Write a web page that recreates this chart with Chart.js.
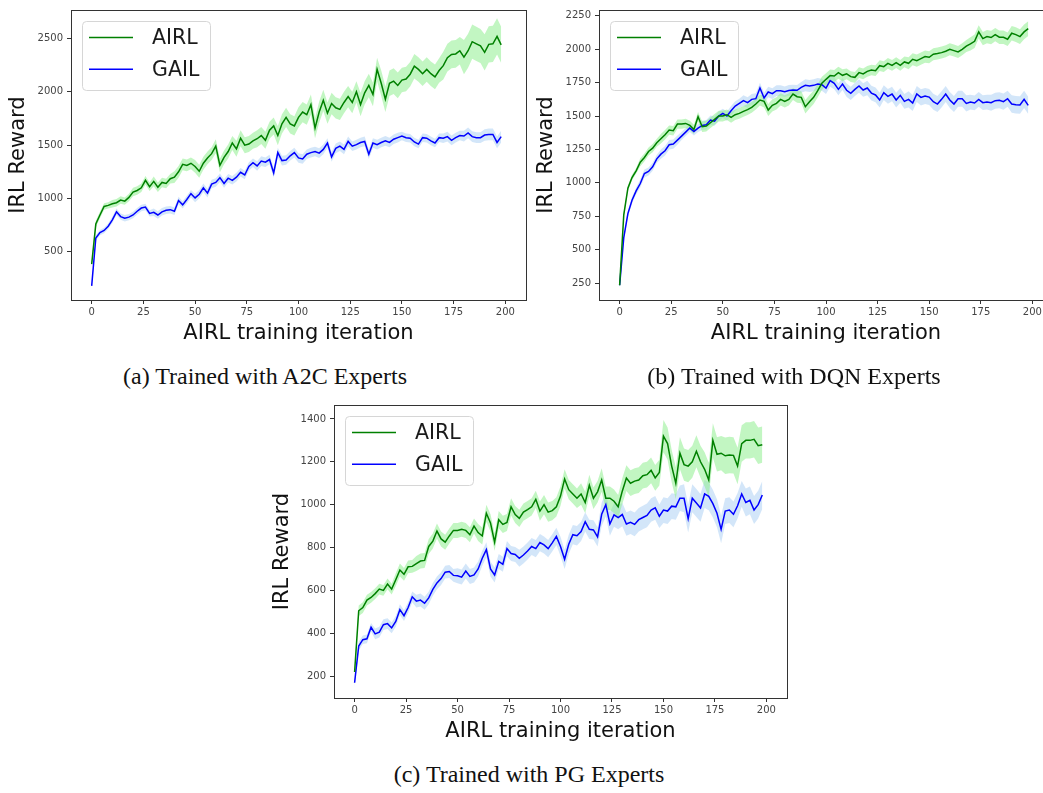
<!DOCTYPE html>
<html>
<head>
<meta charset="utf-8">
<script src="https://cdn.jsdelivr.net/npm/chart.js@4.4.0/dist/chart.umd.min.js"></script>
<style>
  html, body { margin: 0; padding: 0; background: #fff; overflow: hidden; }
  body { width: 1043px; height: 793px; position: relative; }
  canvas { position: absolute; }
  .caption {
    position: absolute; width: 400px; text-align: center; white-space: nowrap;
    font-family: 'Liberation Serif', 'Times New Roman', serif;
    font-size: 24px; line-height: 26px; color: #111;
  }
</style>
</head>
<body>
<canvas id="chartA" width="540" height="350" style="left:0;top:0"></canvas>
<canvas id="chartB" width="540" height="350" style="left:520px;top:0"></canvas>
<canvas id="chartC" width="540" height="350" style="left:260px;top:395px"></canvas>
<div class="caption" style="left:65px;top:363px">(a) Trained with A2C Experts</div>
<div class="caption" style="left:594px;top:363px">(b) Trained with DQN Experts</div>
<div class="caption" style="left:329px;top:761px">(c) Trained with PG Experts</div>
<script>
// iterations sampled every 2 steps (0..198)
const iterations = Array.from({ length: 100 }, (_, k) => 2 * k);
const seriesNames = ['AIRL', 'GAIL'];
const xTicks = [0, 25, 50, 75, 100, 125, 150, 175, 200];

// (a) A2C experts
const airlA2C = [
  385, 760, 845, 925, 935, 950, 960, 985, 975, 1010,
  1060, 1075, 1100, 1170, 1110, 1160, 1105, 1150, 1140, 1185,
  1200, 1250, 1320, 1310, 1330, 1300, 1255, 1330, 1380, 1420,
  1490, 1310, 1385, 1440, 1520, 1465, 1565, 1500, 1510, 1540,
  1560, 1590, 1545, 1640, 1680, 1590, 1700, 1760, 1700, 1680,
  1760, 1810, 1785, 1880, 1660, 1810, 1920, 1800, 1890, 1850,
  1835, 1900, 1955, 1900, 2000, 1880, 1990, 2060, 1975, 2210,
  2080, 1930, 2080, 2100, 2060, 2110, 2120, 2165, 2240, 2210,
  2170, 2210, 2170, 2140, 2200, 2245, 2320, 2350, 2355, 2385,
  2325, 2385, 2470, 2450, 2430, 2370, 2445, 2450, 2520, 2440
];
const gailA2C = [
  180, 630, 680, 700, 740, 800, 875, 830, 815, 825,
  845, 880, 910, 920, 860, 870, 845, 875, 890, 895,
  880, 980, 940, 990, 1045, 1005, 1040, 1100, 1050, 1135,
  1150, 1195, 1140, 1190, 1170, 1200, 1245, 1220, 1300, 1335,
  1305, 1350, 1340, 1365, 1240, 1430, 1355, 1360, 1400, 1430,
  1380, 1370, 1415, 1430, 1440, 1425, 1460, 1520, 1390, 1470,
  1490, 1460, 1535, 1490, 1505, 1525, 1535, 1415, 1520, 1505,
  1525, 1540, 1525, 1555, 1570, 1585, 1570, 1565, 1530, 1510,
  1570, 1565, 1540, 1520, 1570, 1565, 1580, 1545, 1570, 1590,
  1585, 1615, 1580, 1570, 1570, 1595, 1600, 1600, 1525, 1580
];
// band half widths, one per 10 iterations
const airlA2CSpread = [30, 35, 40, 45, 55, 60, 65, 75, 80, 90, 95, 100, 100, 110, 120, 115, 115, 130, 160, 170];
const gailA2CSpread = [25, 30, 30, 35, 35, 40, 40, 40, 45, 45, 45, 45, 45, 45, 45, 40, 40, 45, 50, 55];
const yTicksA2C = [500, 1000, 1500, 2000, 2500];

// (b) DQN experts
const airlDQN = [
  233, 760, 960, 1040, 1090, 1155, 1190, 1235, 1260, 1300,
  1330, 1360, 1395, 1390, 1440, 1440, 1445, 1430, 1400, 1495,
  1420, 1425, 1450, 1475, 1500, 1500, 1510, 1490, 1510, 1520,
  1535, 1548, 1565, 1590, 1620, 1610, 1545, 1580, 1595, 1625,
  1610, 1625, 1665, 1645, 1640, 1570, 1607, 1640, 1690, 1745,
  1775, 1803, 1800, 1825, 1805, 1816, 1795, 1790, 1825, 1816,
  1835, 1845, 1840, 1877, 1870, 1895, 1880, 1900, 1880, 1905,
  1895, 1925, 1915, 1930, 1945, 1940, 1963, 1968, 1975, 1985,
  2000, 1990, 1980, 2000, 2024, 2040, 2060, 2130, 2080, 2095,
  2088, 2110, 2090, 2090, 2075, 2120, 2110, 2095, 2130, 2155
];
const gailDQN = [
  233, 590, 770, 870, 940, 995, 1070, 1085, 1120, 1180,
  1215, 1240, 1285, 1290, 1320, 1350, 1380, 1410, 1385, 1410,
  1430, 1435, 1470, 1462, 1500, 1520, 1500, 1540, 1575, 1595,
  1615, 1600, 1625, 1630, 1710, 1635, 1680, 1668, 1690, 1690,
  1682, 1692, 1695, 1693, 1715, 1730, 1725, 1730, 1740, 1735,
  1710, 1765, 1745, 1700, 1740, 1693, 1670, 1700, 1725, 1695,
  1710, 1672, 1658, 1620, 1675, 1648, 1665, 1620, 1655, 1610,
  1625, 1598, 1665, 1640, 1650, 1642, 1607, 1590, 1625, 1665,
  1620, 1590, 1630, 1630, 1595, 1605, 1598, 1625, 1600, 1605,
  1600, 1615, 1618, 1608, 1630, 1590, 1585, 1583, 1625, 1580
];
const airlDQNSpread = [20, 30, 35, 35, 40, 40, 40, 45, 45, 50, 45, 40, 40, 40, 45, 45, 45, 50, 50, 55];
const gailDQNSpread = [25, 30, 35, 30, 35, 35, 40, 40, 40, 45, 45, 50, 55, 55, 60, 60, 60, 55, 60, 65];
const yTicksDQN = [250, 500, 750, 1000, 1250, 1500, 1750, 2000, 2250];

// (c) PG experts
const airlPG = [
  219, 505, 520, 555, 567, 585, 606, 600, 630, 606,
  650, 695, 675, 710, 712, 725, 737, 740, 805, 830,
  877, 840, 825, 854, 880, 880, 885, 880, 860, 900,
  870, 854, 960, 915, 825, 930, 908, 917, 990, 954,
  936, 965, 977, 990, 1025, 970, 1000, 965, 972, 990,
  1040, 1120, 1070, 1050, 1030, 1050, 1010, 1090, 1030, 1060,
  1115, 1030, 1030, 1016, 990, 1063, 1124, 1100, 1110, 1115,
  1135, 1140, 1160, 1125, 1150, 1320, 1285, 1180, 1100, 1240,
  1187, 1180, 1200, 1249, 1200, 1165, 1115, 1300, 1235, 1240,
  1228, 1232, 1230, 1180, 1285, 1300, 1300, 1305, 1275, 1280
];
const gailPG = [
  169, 340, 370, 374, 428, 397, 405, 440, 445, 425,
  455, 510, 482, 520, 570, 550, 555, 540, 565, 605,
  635, 655, 685, 688, 670, 668, 662, 690, 665, 672,
  700, 750, 790, 700, 672, 735, 722, 795, 772, 768,
  750, 765, 784, 805, 795, 823, 812, 795, 822, 852,
  805, 745, 815, 860, 855, 875, 920, 885, 882, 850,
  955, 1000, 910, 952, 940, 954, 910, 918, 908, 930,
  940, 950, 975, 985, 946, 975, 970, 993, 990, 1030,
  1030, 935, 1030, 1008, 985, 1050, 1039, 1005, 960, 885,
  970, 975, 955, 995, 1050, 1010, 1020, 975, 1000, 1045
];
const airlPGSpread = [25, 25, 30, 35, 35, 35, 40, 40, 40, 45, 45, 50, 55, 60, 60, 75, 75, 80, 85, 85];
const gailPGSpread = [20, 25, 25, 30, 30, 35, 35, 35, 40, 40, 45, 45, 55, 55, 55, 60, 65, 65, 60, 65];
const yTicksPG = [200, 400, 600, 800, 1000, 1200, 1400];

const FONT = "'DejaVu Sans', sans-serif";
const lineColors = ['#008000', '#0000ff'];
const bandColors = ['rgba(144, 238, 144, 0.55)', 'rgba(150, 195, 240, 0.42)'];

function linePoints(values) {
    return values.map((y, k) => ({ x: iterations[k], y: y }));
}

function bandPoints(values, spread, sign) {
    return values.map((y, k) => ({ x: iterations[k], y: y + sign * spread[Math.floor(iterations[k] / 10)] }));
}

// matplotlib-like spines on all four sides
const framePlugin = {
    id: 'frame',
    afterDatasetsDraw(chart) {
        const { ctx, chartArea: a } = chart;
        ctx.save();
        ctx.strokeStyle = '#333';
        ctx.lineWidth = 1;
        ctx.strokeRect(a.left + 0.5, a.top + 0.5, a.right - a.left, a.bottom - a.top);
        ctx.restore();
    }
};

const boxLegendPlugin = {
    id: 'boxLegend',
    afterDraw(chart) {
        const { ctx, chartArea: a } = chart;
        const x0 = a.left + 11, y0 = a.top + 11;
        ctx.save();
        ctx.beginPath();
        ctx.roundRect(x0 + 0.5, y0 + 0.5, 128, 69, 4);
        ctx.fillStyle = 'rgba(255,255,255,0.8)';
        ctx.fill();
        ctx.strokeStyle = '#d6d6d6';
        ctx.lineWidth = 1;
        ctx.stroke();
        seriesNames.forEach((name, k) => {
            const y = y0 + 16.5 + k * 31.7;
            ctx.beginPath();
            ctx.moveTo(x0 + 7, y);
            ctx.lineTo(x0 + 51, y);
            ctx.strokeStyle = lineColors[k];
            ctx.lineWidth = 1.6;
            ctx.stroke();
            ctx.fillStyle = '#1a1a1a';
            ctx.font = '20.5px ' + FONT;
            ctx.textBaseline = 'middle';
            ctx.fillText(name, x0 + 70, y + 1);
        });
        ctx.restore();
    }
};

function createRewardChart(canvasId, airl, gail, airlSpread, gailSpread, yTicks, yMin, yMax, box) {
    const ctx = document.getElementById(canvasId);
    const bandSet = (values, spread, sign, color, fill) => ({
        data: bandPoints(values, spread, sign),
        borderWidth: 0,
        pointRadius: 0,
        backgroundColor: color,
        fill: fill
    });
    return new Chart(ctx, {
        type: 'line',
        data: {
            datasets: [
                { label: seriesNames[0], data: linePoints(airl), borderColor: lineColors[0], borderWidth: 1.5, pointRadius: 0, fill: false },
                { label: seriesNames[1], data: linePoints(gail), borderColor: lineColors[1], borderWidth: 1.5, pointRadius: 0, fill: false },
                bandSet(airl, airlSpread, 1, bandColors[0], '+1'),
                bandSet(airl, airlSpread, -1, bandColors[0], false),
                bandSet(gail, gailSpread, 1, bandColors[1], '+1'),
                bandSet(gail, gailSpread, -1, bandColors[1], false)
            ]
        },
        options: {
            responsive: false,
            animation: false,
            devicePixelRatio: 1,
            events: [],
            layout: { padding: { top: box.top, right: box.right, left: 0, bottom: 0 } },
            plugins: {
                legend: { display: false },
                tooltip: { enabled: false }
            },
            scales: {
                x: {
                    type: 'linear',
                    min: -10,
                    max: 210,
                    afterBuildTicks: axis => { axis.ticks = xTicks.map(v => ({ value: v })); },
                    afterFit: axis => { axis.height = box.xHeight; },
                    grid: { drawOnChartArea: false, drawTicks: true, tickLength: 4, tickColor: '#333' },
                    border: { display: false },
                    ticks: {
                        color: '#444', font: { family: FONT, size: 10 }, padding: 2, maxRotation: 0, autoSkip: false,
                        callback: value => String(value)
                    },
                    title: {
                        display: true,
                        text: 'AIRL training iteration',
                        color: '#111',
                        font: { family: FONT, size: 21 },
                        padding: { top: 0, bottom: box.xTitlePad }
                    }
                },
                y: {
                    min: yMin,
                    max: yMax,
                    afterBuildTicks: axis => { axis.ticks = yTicks.map(v => ({ value: v })); },
                    afterFit: axis => { axis.width = box.left; },
                    grid: { drawOnChartArea: false, drawTicks: true, tickLength: 4, tickColor: '#333' },
                    border: { display: false },
                    ticks: {
                        color: '#444', font: { family: FONT, size: 10 }, padding: 4,
                        callback: value => String(value)
                    },
                    title: {
                        display: true,
                        text: 'IRL Reward',
                        color: '#111',
                        font: { family: FONT, size: 21 },
                        padding: { top: box.yTitlePad, bottom: 0 }
                    }
                }
            }
        },
        plugins: [framePlugin, boxLegendPlugin]
    });
}

createRewardChart('chartA', airlA2C, gailA2C, airlA2CSpread, gailA2CSpread, yTicksA2C, 48, 2767,
    { left: 71, right: 14, top: 5, xHeight: 50, xTitlePad: 3.6, yTitlePad: 5.7 });
createRewardChart('chartB', airlDQN, gailDQN, airlDQNSpread, gailDQNSpread, yTicksDQN, 123, 2294,
    { left: 79, right: 7, top: 5, xHeight: 50, xTitlePad: 3.6, yTitlePad: 14 });
createRewardChart('chartC', airlPG, gailPG, airlPGSpread, gailPGSpread, yTicksPG, 98, 1465,
    { left: 74, right: 13, top: 8, xHeight: 47, xTitlePad: 1, yTitlePad: 10 });
</script>
</body>
</html>
